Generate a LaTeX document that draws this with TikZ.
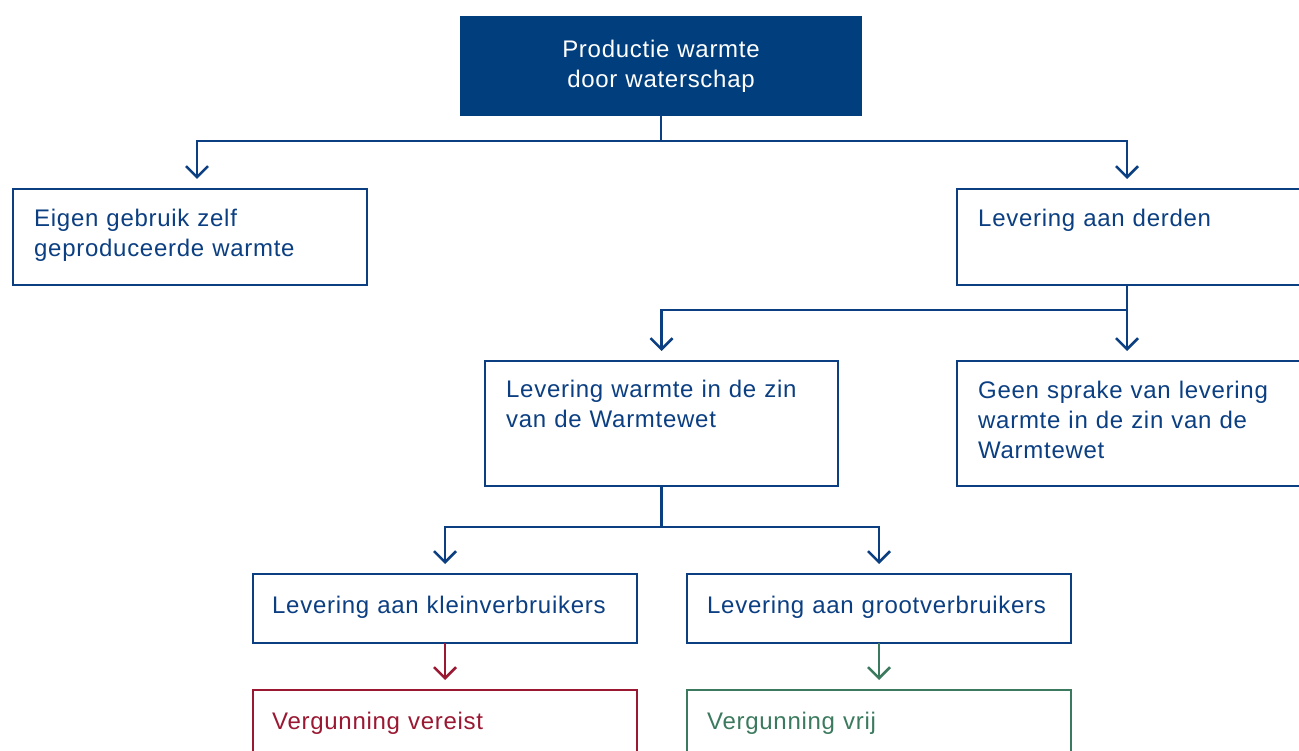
\documentclass[tikz,border=0pt]{standalone}
\usepackage{fontspec}
\setmainfont{Liberation Sans}[LetterSpace=3]
\usetikzlibrary{arrows.meta}
\definecolor{wsblue}{HTML}{0B3F82}
\definecolor{wsfill}{HTML}{003E7D}
\definecolor{wsred}{HTML}{9A1832}
\definecolor{wsgreen}{HTML}{3B7A5E}
\tikzset{
  box/.style={draw=#1, line width=2.6pt, rectangle, inner sep=0pt, outer sep=0pt, anchor=north west},
  box/.default=wsblue,
  txt/.style={text=#1, anchor=base west, inner sep=0pt, align=left, text width=340pt,
    font=\fontsize{24}{29.5}\selectfont},
  txt/.default=wsblue,
  conn/.style={draw=#1, line width=2.5pt},
  conn/.default=wsblue,
  arr/.style={conn=#1, -{Straight Barb[length=11pt, width=22pt, line width=2.5pt]}, shorten >=10pt},
  arr/.default=wsblue
}
\begin{document}
\begin{tikzpicture}[x=1pt, y=-1pt]
\clip (0,0) rectangle (1299,751);
\fill[white] (0,0) rectangle (1299,751);

% boxes
\node[box=wsfill, fill=wsfill, minimum width=400pt, minimum height=98pt] (top) at (461,17) {};
\node[box, minimum width=354pt, minimum height=96pt] (eigen) at (13,189) {};
\node[box, minimum width=420pt, minimum height=96pt] (derden) at (957,189) {};
\node[box, minimum width=353pt, minimum height=125pt] (wet) at (485,361) {};
\node[box, minimum width=420pt, minimum height=125pt] (geen) at (957,361) {};
\node[box, minimum width=384pt, minimum height=69pt] (klein) at (253,574) {};
\node[box, minimum width=384pt, minimum height=69pt] (groot) at (687,574) {};
\node[box=wsred, minimum width=384pt, minimum height=100pt] (vereist) at (253,690) {};
\node[box=wsgreen, minimum width=384pt, minimum height=100pt] (vrij) at (687,690) {};

% texts
\node[txt=white, anchor=base, align=center, text width=400pt] (ttop) at (661,58)
  {Productie warmte\\door waterschap};
\node[txt] (teigen) at (34,227) {Eigen gebruik zelf\\geproduceerde warmte};
\node[txt] (tderden) at (978,227) {Levering aan derden};
\node[txt] (twet) at (506,398) {Levering warmte in de zin\\van de Warmtewet};
\node[txt] (tgeen) at (978,399) {Geen sprake van levering\\warmte in de zin van de\\Warmtewet};
\node[txt] (tklein) at (272,613) {Levering aan kleinverbruikers};
\node[txt] (tgroot) at (707,613) {Levering aan grootverbruikers};
\node[txt=wsred] (tvereist) at (272,729) {Vergunning vereist};
\node[txt=wsgreen] (tvrij) at (707,729) {Vergunning vrij};

% junction points of the forks
\coordinate (j1) at (top.south |- 0,141);
\coordinate (d1) at ([xshift=170pt]derden.south west);
\coordinate (j2) at (d1 |- 0,310);
\coordinate (j3) at (wet.south |- 0,527);

% connectors
\draw[conn] (top.south) -- (j1);
\draw[arr] (j1) -| ([xshift=184pt]eigen.north west);
\draw[arr] (j1) -| ([xshift=170pt]derden.north west);
\draw[conn] (d1) -- (j2);
\draw[arr] (j2) -| (wet.north);
\draw[arr] (j2) -- ([xshift=170pt]geen.north west);
\draw[conn] (wet.south) -- (j3);
\draw[arr] (j3) -| (klein.north);
\draw[arr] (j3) -| (groot.north);
\draw[arr=wsred] (klein.south) -- (vereist.north);
\draw[arr=wsgreen] (groot.south) -- (vrij.north);
\end{tikzpicture}
\end{document}
